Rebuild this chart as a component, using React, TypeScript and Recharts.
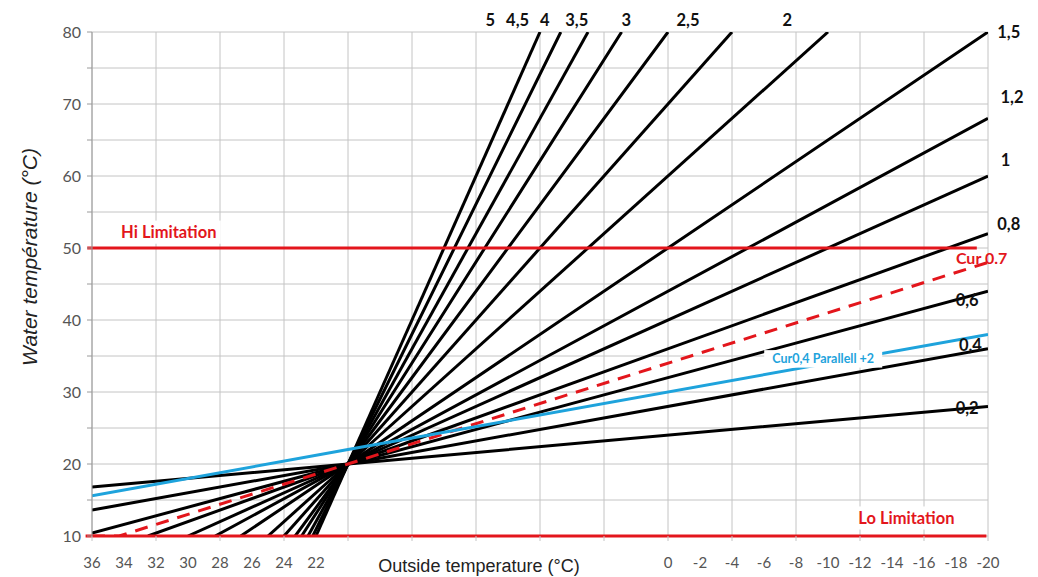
import React from 'react';
import { LineChart, Line, XAxis, YAxis, CartesianGrid, ReferenceLine, ReferenceDot } from 'recharts';

// Outside temperature ticks (every 2 °C), labels shown, grid every 4 °C
const xTicks = [36, 34, 32, 30, 28, 26, 24, 22, 20, 18, 16, 14, 12, 10, 8, 6, 4, 2, 0, -2, -4, -6, -8, -10, -12, -14, -16, -18, -20];
const xLabelShown = [36, 34, 32, 30, 28, 26, 24, 22, 0, -2, -4, -6, -8, -10, -12, -14, -16, -18, -20];
const xGrid = [36, 32, 28, 24, 20, 16, 12, 8, 4, 0, -4, -8, -12, -16, -20];
const yTicks = [10, 15, 20, 25, 30, 35, 40, 45, 50, 55, 60, 65, 70, 75, 80];
const yLabels = [10, 20, 30, 40, 50, 60, 70, 80];

// Heating curves: [outside temp, water temp]
const curve02 = [[36, 16.8], [20, 20], [-20, 28]];
const curve04 = [[36, 13.6], [20, 20], [-20, 36]];
const curve06 = [[36, 10.4], [20, 20], [-20, 44]];
const curve08 = [[32.5, 10], [20, 20], [-20, 52]];
const curve10 = [[30, 10], [20, 20], [-20, 60]];
const curve12 = [[28.3, 10], [20, 20], [-20, 68]];
const curve15 = [[26.7, 10], [20, 20], [-20, 80]];
const curve20 = [[25, 10], [20, 20], [-10, 80]];
const curve25 = [[24, 10], [20, 20], [-4, 80]];
const curve30 = [[23.3, 10], [20, 20], [0, 80]];
const curve35 = [[22.9, 10], [20, 20], [2.9, 80]];
const curve40 = [[22.5, 10], [20, 20], [5, 80]];
const curve45 = [[22.2, 10], [20, 20], [6.7, 80]];
const curve50 = [[22, 10], [20, 20], [8, 80]];
const curveCur07 = [[36, 10], [34.3, 10], [20, 20], [-20, 48]];
const curveParallel = [[36, 15.6], [20, 22], [-20, 38]];

const hiLimit = 50;
const loLimit = 10;

const blackCurves = [curve02, curve04, curve06, curve08, curve10, curve12, curve15, curve20, curve25, curve30, curve35, curve40, curve45, curve50];

// Annotations (data coordinates)
const curveLabels: { text: string; x: number; y: number }[] = [
  { text: '5', x: 11.1, y: 81.7 },
  { text: '4,5', x: 9.4, y: 81.7 },
  { text: '4', x: 7.7, y: 81.7 },
  { text: '3,5', x: 5.7, y: 81.7 },
  { text: '3', x: 2.6, y: 81.7 },
  { text: '2,5', x: -1.25, y: 81.7 },
  { text: '2', x: -7.45, y: 81.7 },
  { text: '1,5', x: -21.3, y: 80 },
  { text: '1,2', x: -21.5, y: 71 },
  { text: '1', x: -21.1, y: 62.2 },
  { text: '0,8', x: -21.3, y: 53.3 },
  { text: '0,6', x: -18.7, y: 42.8 },
  { text: '0,4', x: -18.9, y: 36.5 },
  { text: '0,2', x: -18.7, y: 27.8 },
];

const RED = '#e3161c';
const BLUE = '#1ea3dc';
const GRID = '#c4c4c4';
const FONT = "Lato, 'Open Sans', sans-serif";
const toPts = (a: number[][]) => a.map(([x, y]) => ({ x, y }));

const XTick = (props: any) => {
  const { x, y, payload } = props;
  const v = payload.value;
  const showLabel = xLabelShown.includes(v);
  const mark = xGrid.includes(v);
  return (
    <g>
      {mark && <line x1={x} x2={x} y1={y - 6} y2={y - 1} stroke={GRID} />}
      {showLabel && (
        <text x={x} y={y + 21} dy="0.35em" textAnchor="middle" fontSize={15} fill="#555" fontFamily={FONT}>
          {v}
        </text>
      )}
    </g>
  );
};

const textShape = (text: string, color: string, size: number, bg: boolean, bgW = 0) => (p: any) => (
  <g>
    {bg && <rect x={p.cx - bgW / 2} y={p.cy - size * 0.7} width={bgW} height={size * 1.4} fill="#fff" />}
    <text x={p.cx} y={p.cy} dy="0.35em" textAnchor="middle" fontSize={size} fontWeight="bold" fill={color} fontFamily={FONT}>
      {text}
    </text>
  </g>
);

export default function App() {
  return (
    <div style={{ position: 'absolute', left: 0, top: 0, width: 1038, height: 577, background: '#fff' }}>
      <LineChart width={1038} height={577} margin={{ top: 32, right: 50, bottom: 0, left: 40 }}>
        <CartesianGrid
          stroke={GRID}
          verticalCoordinatesGenerator={(props: any) => {
            const s = props?.xAxis?.scale;
            if (typeof s === 'function') return xGrid.map((v) => s(v));
            const off = props.offset;
            return xGrid.map((v) => off.left + ((36 - v) / 56) * off.width);
          }}
        />
        <XAxis
          dataKey="x"
          type="number"
          domain={[-20, 36]}
          reversed
          allowDataOverflow
          ticks={xTicks}
          interval={0}
          tickLine={false}
          tickSize={6}
          tickMargin={0}
          height={41}
          axisLine={false}
          tick={<XTick />}
        />
        <YAxis
          type="number"
          domain={[10, 80]}
          allowDataOverflow
          ticks={yTicks}
          interval={0}
          width={52}
          tickSize={5}
          tickMargin={6}
          axisLine={{ stroke: '#9a9a9a' }}
          tickLine={{ stroke: '#9a9a9a' }}
          tick={{ fontSize: 16, fill: '#555', fontFamily: FONT }}
          tickFormatter={(v: number) => (yLabels.includes(v) ? String(v) : '')}
        />
        {blackCurves.map((c, i) => (
          <Line key={i} data={toPts(c)} dataKey="y" type="linear" stroke="#000" strokeWidth={3} dot={false} isAnimationActive={false} />
        ))}
        <Line data={toPts(curveCur07)} dataKey="y" type="linear" stroke={RED} strokeWidth={3} strokeDasharray="13 9" dot={false} isAnimationActive={false} />
        <Line data={toPts(curveParallel)} dataKey="y" type="linear" stroke={BLUE} strokeWidth={3} dot={false} isAnimationActive={false} />
        <ReferenceLine segment={[{ x: 36.3, y: hiLimit }, { x: -19.3, y: hiLimit }]} stroke={RED} strokeWidth={3} ifOverflow="visible" />
        <ReferenceLine segment={[{ x: 36.4, y: loLimit }, { x: -19.9, y: loLimit }]} stroke={RED} strokeWidth={3} ifOverflow="visible" />
        {curveLabels.map((l, i) => (
          <ReferenceDot key={'l' + i} x={l.x} y={l.y} r={1} ifOverflow="visible" shape={textShape(l.text, '#111', 16.5, false)} />
        ))}
        <ReferenceDot x={-19.6} y={48.6} r={1} ifOverflow="visible" shape={textShape('Cur 0.7', RED, 16, false)} />
        <ReferenceDot x={31.2} y={52.2} r={1} ifOverflow="visible" shape={textShape('Hi Limitation', RED, 16.5, true, 104)} />
        <ReferenceDot x={-14.9} y={12.5} r={1} ifOverflow="visible" shape={textShape('Lo Limitation', RED, 16.5, true, 108)} />
        <ReferenceDot x={-9.7} y={34.6} r={1} ifOverflow="visible" shape={textShape('Cur0,4 Parallell +2', BLUE, 12.5, true, 118)} />
      </LineChart>
      <div
        style={{
          position: 'absolute',
          left: 30,
          top: 257,
          transform: 'translate(-50%, -50%) rotate(-90deg)',
          whiteSpace: 'nowrap',
          fontFamily: "'Liberation Sans', Arial, sans-serif",
          fontStyle: 'italic',
          fontSize: 21,
          color: '#222',
        }}
      >
        Water température (°C)
      </div>
      <div
        style={{
          position: 'absolute',
          left: 479,
          top: 566,
          transform: 'translate(-50%, -50%)',
          whiteSpace: 'nowrap',
          fontFamily: "'Liberation Sans', Arial, sans-serif",
          fontSize: 18,
          color: '#222',
          background: '#fff',
          padding: '0 6px',
        }}
      >
        Outside temperature (°C)
      </div>
    </div>
  );
}
